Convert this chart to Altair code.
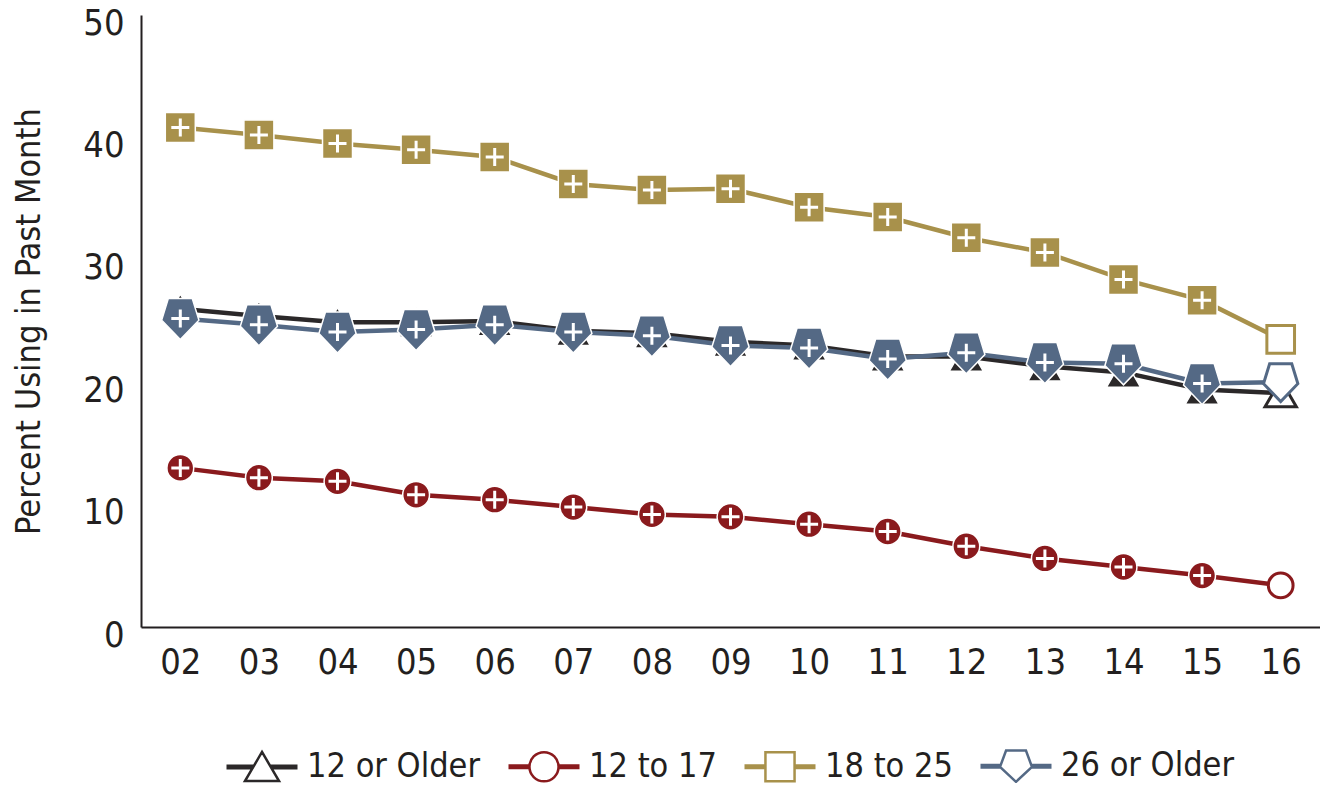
import altair as alt
import pandas as pd

years = ["02", "03", "04", "05", "06", "07", "08", "09", "10", "11", "12", "13", "14", "15", "16"]
series_names = ["12 or Older", "12 to 17", "18 to 25", "26 or Older"]
v_12_older = [26.0, 25.4, 24.9, 24.9, 25.0, 24.2, 24.0, 23.3, 23.0, 22.1, 22.1, 21.3, 20.8, 19.4, 19.1]
v_12_17 = [13.0, 12.2, 11.9, 10.8, 10.4, 9.8, 9.2, 9.0, 8.4, 7.8, 6.6, 5.6, 4.9, 4.2, 3.4]
v_18_25 = [40.8, 40.2, 39.5, 39.0, 38.4, 36.2, 35.7, 35.8, 34.3, 33.5, 31.8, 30.6, 28.4, 26.7, 23.5]
v_26_older = [25.2, 24.7, 24.1, 24.3, 24.7, 24.1, 23.8, 23.0, 22.8, 21.9, 22.4, 21.6, 21.5, 19.9, 20.0]
# "+" = significantly different from 2016
sig = ["+", "+", "+", "+", "+", "+", "+", "+", "+", "+", "+", "+", "+", "+", ""]

colors = ["#2b2829", "#8a1a1d", "#a8914b", "#546985"]

FONT = "Liberation Sans Narrow, Arial Narrow, DejaVu Sans Condensed, sans-serif"
TXT = "#231f20"

values = [v_12_older, v_12_17, v_18_25, v_26_older]
rows = []
for name, vals in zip(series_names, values):
    for yr, v, s in zip(years, vals, sig):
        rows.append({"year": yr, "value": v, "series": name, "sig": s})
df = pd.DataFrame(rows)

PENT = "M-0.6,-1L0.6,-1L0.93,0.08L0,1.05L-0.93,0.08Z"
PLUS = "M-0.45,0H0.45M0,-0.45V0.45"

marker_shape = {
    "12 or Older": ("triangle-up", 1156),
    "12 to 17": ("circle", 720),
    "18 to 25": ("square", 900),
    "26 or Older": (PENT, 1600),
}

dash = "M-1,-0.035H-{a}M-1,0.035H-{a}M{a},-0.035H1M{a},0.035H1"
legend_paths = [
    dash.format(a=0.25) + "M0,-0.42L0.48,0.4L-0.48,0.4Z",
    dash.format(a=0.41) + "M0.41,0A0.41,0.41 0 1,1 -0.41,0A0.41,0.41 0 1,1 0.41,0Z",
    dash.format(a=0.41) + "M-0.41,-0.41H0.41V0.41H-0.41Z",
    dash.format(a=0.45) + "M-0.28,-0.44H0.28L0.45,0.02L0,0.44L-0.45,0.02Z",
]

x_enc = alt.X("year:O", sort=years, scale=alt.Scale(type="point", padding=0.5),
              axis=alt.Axis(title=None, labelAngle=0))
y_enc = alt.Y("value:Q", scale=alt.Scale(domain=[0, 50], nice=False),
              axis=alt.Axis(title="Percent Using in Past Month", values=[0, 10, 20, 30, 40, 50]))

base = alt.Chart(df)
layers = []
for name, c in zip(series_names, colors):
    layers.append(
        base.transform_filter(alt.datum.series == name)
        .mark_line(color=c, strokeWidth=4.5)
        .encode(x=x_enc, y=y_enc)
    )

for name, c in zip(series_names, colors):
    shp, sz = marker_shape[name]
    f = base.transform_filter(alt.datum.series == name)
    layers.append(
        f.transform_filter(alt.datum.sig == "+")
        .mark_point(shape=shp, size=sz, filled=True, fill=c, stroke="white",
                    strokeWidth=1.5, opacity=1)
        .encode(x=x_enc, y=y_enc)
    )
    layers.append(
        f.transform_filter(alt.datum.sig == "+")
        .mark_point(shape=PLUS, size=1600, filled=False, stroke="white",
                    strokeWidth=3, opacity=1)
        .encode(x=x_enc, y=y_enc)
    )
    layers.append(
        f.transform_filter(alt.datum.sig == "")
        .mark_point(shape=shp, size=sz * 0.85, filled=True, fill="white", stroke=c,
                    strokeWidth=3, opacity=1)
        .encode(x=x_enc, y=y_enc)
    )

leg = alt.Legend(
    title=None, orient="none", direction="horizontal", legendX=84, legendY=714,
    labelFont=FONT, labelFontSize=34, labelColor=TXT, labelOffset=8, labelLimit=500,
    symbolSize=5041, symbolStrokeWidth=2.5, symbolOpacity=1, columnPadding=22,
    symbolFillColor="transparent",
)
layers.append(
    base.mark_point(filled=False, opacity=0, strokeWidth=2.5)
    .encode(
        x=x_enc, y=y_enc,
        color=alt.Color("series:N", scale=alt.Scale(domain=series_names, range=colors), legend=leg),
        shape=alt.Shape("series:N", scale=alt.Scale(domain=series_names, range=legend_paths), legend=leg),
    )
)

chart = (
    alt.layer(*layers)
    .properties(width=1179, height=612, autosize="none",
                padding={"left": 133, "top": 7, "right": 0, "bottom": 156})
    .configure_view(stroke=None)
    .configure_axis(
        grid=False, ticks=False, domainColor=TXT, domainWidth=2,
        labelFont=FONT, labelFontSize=36, labelColor=TXT,
        titleFont=FONT, titleFontSize=34, titleColor=TXT, titleFontWeight="normal",
    )
    .configure_axisX(labelPadding=18)
    .configure_axisY(labelPadding=17, labelOffset=8, titlePadding=36)
)

chart.save("out.html", embed_options={"renderer": "svg", "actions": False})
